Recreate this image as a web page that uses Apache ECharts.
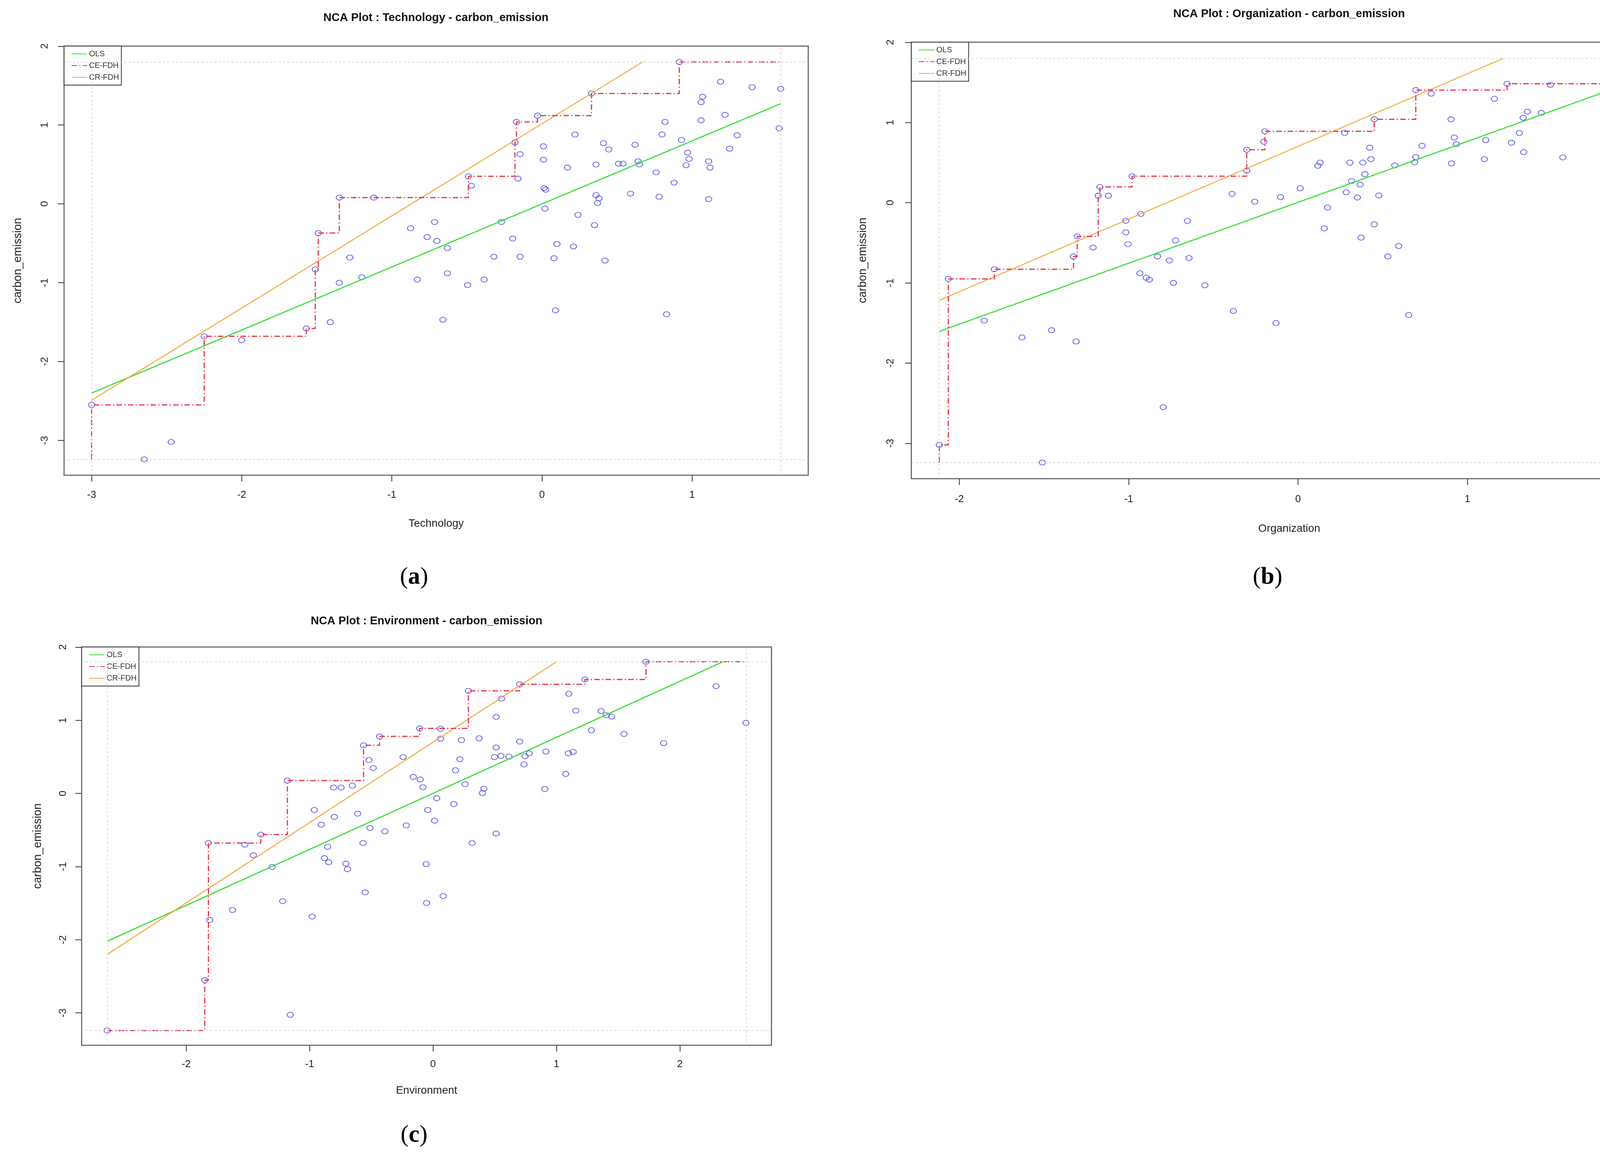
<!DOCTYPE html>
<html><head><meta charset="utf-8">
<script src="https://cdn.jsdelivr.net/npm/echarts@6/dist/echarts.min.js"></script>
<style>html,body{margin:0;padding:0;background:#fff}#c{width:4294px;height:2976px}</style>
</head><body><div id="c"></div>
<script>
// ---------- DATA ----------
const yTicks = [-3, -2, -1, 0, 1, 2];
const techTicks = [-3, -2, -1, 0, 1];
const orgTicks = [-2, -1, 0, 1, 2];
const envTicks = [-2, -1, 0, 1, 2];

const techX = [-3.0,-2.65,-2.47,-2.25,-2.0,-1.57,-1.51,-1.49,-1.41,-1.35,
 -1.35,-1.28,-1.20,-1.12,-0.875,-0.83,-0.765,-0.715,-0.70,-0.66,
 -0.63,-0.63,-0.495,-0.49,-0.47,-0.385,-0.32,-0.27,-0.195,-0.18,
 -0.17,-0.16,-0.146,-0.146,-0.03,0.01,0.01,0.014,0.025,0.02,
 0.08,0.09,0.10,0.17,0.21,0.22,0.24,0.33,0.35,0.36,
 0.36,0.37,0.38,0.41,0.42,0.445,0.51,0.54,0.59,0.62,
 0.64,0.65,0.76,0.78,0.80,0.82,0.83,0.88,0.915,0.93,
 0.96,0.97,0.98,1.06,1.06,1.07,1.11,1.11,1.12,1.19,
 1.22,1.25,1.30,1.40,1.58,1.59];
const techY = [-2.55,-3.24,-3.02,-1.68,-1.73,-1.58,-0.83,-0.37,-1.50,0.08,
 -1.00,-0.68,-0.93,0.08,-0.31,-0.96,-0.42,-0.23,-0.47,-1.47,
 -0.56,-0.88,-1.03,0.35,0.23,-0.96,-0.67,-0.23,-0.44,0.78,
 1.04,0.32,0.63,-0.67,1.12,0.73,0.56,0.20,0.18,-0.06,
 -0.69,-1.35,-0.51,0.46,-0.54,0.88,-0.14,1.40,-0.27,0.11,
 0.50,0.01,0.07,0.77,-0.72,0.69,0.51,0.51,0.13,0.75,
 0.54,0.50,0.40,0.09,0.88,1.04,-1.40,0.27,1.80,0.81,
 0.49,0.65,0.57,1.29,1.06,1.36,0.06,0.54,0.46,1.55,
 1.13,0.70,0.87,1.48,0.96,1.46];
const techCeX = [-3.0,-3.0,-2.25,-1.57,-1.51,-1.49,-1.35,-0.49,-0.18,-0.17,-0.03,0.33,0.915,1.59];
const techCeY = [-3.24,-2.55,-1.68,-1.58,-0.83,-0.37,0.08,0.35,0.78,1.04,1.12,1.40,1.80,1.80];
const techOlsX = [-3.0, 1.59];
const techOlsY = [-2.40, 1.27];
const techCrX = [-3.0, 0.67];
const techCrY = [-2.49, 1.80];

const orgX = [-2.118,-2.065,-1.853,-1.793,-1.63,-1.51,-1.455,-1.326,-1.31,-1.304,
 -1.21,-1.18,-1.17,-1.12,-1.017,-1.017,-1.004,-0.98,
 -0.928,-0.934,
 -0.897,-0.878,-0.83,-0.796,-0.76,-0.736,-0.723,-0.653,-0.644,-0.55,
 -0.39,-0.382,-0.303,-0.303,-0.256,-0.202,-0.196,-0.13,-0.104,0.013,
 0.117,0.13,0.155,0.174,0.275,0.284,0.306,0.316,0.35,0.366,
 0.372,0.382,0.395,0.423,0.43,0.45,0.45,0.477,0.53,0.571,
 0.594,0.653,0.688,0.695,0.695,0.732,0.786,0.903,0.906,0.922,
 0.934,1.10,1.108,1.159,1.234,1.26,1.307,1.329,1.332,1.354,
 1.436,1.49,1.563,1.803,1.863,2.014];
const orgY = [-3.02,-0.95,-1.47,-0.83,-1.68,-3.24,-1.59,-0.67,-1.73,-0.42,
 -0.56,0.087,0.196,0.087,-0.226,-0.37,-0.517,0.33,
 -0.14,-0.88,
 -0.935,-0.96,-0.67,-2.55,-0.72,-1.00,-0.47,-0.226,-0.69,-1.03,
 0.11,-1.35,0.40,0.66,0.013,0.76,0.89,-1.50,0.07,0.18,
 0.46,0.50,-0.32,-0.06,0.87,0.13,0.50,0.27,0.065,0.226,
 -0.435,0.50,0.356,0.687,0.543,1.04,-0.27,0.09,-0.67,0.465,
 -0.54,-1.40,0.504,0.57,1.404,0.71,1.36,1.04,0.49,0.813,
 0.73,0.543,0.78,1.296,1.483,0.748,0.87,1.06,0.63,1.135,
 1.12,1.47,0.565,1.80,1.557,0.965];
const orgCeX = [-2.118,-2.118,-2.065,-1.793,-1.326,-1.304,-1.18,-1.17,-0.98,-0.303,-0.196,0.45,0.695,1.234,1.803,2.014];
const orgCeY = [-3.24,-3.02,-0.95,-0.83,-0.67,-0.42,0.087,0.196,0.33,0.66,0.89,1.04,1.404,1.483,1.80,1.80];
const orgOlsX = [-2.118, 2.014];
const orgOlsY = [-1.604, 1.535];
const orgCrX = [-2.118, 1.212];
const orgCrY = [-1.217, 1.80];

const envX = [-2.64,-1.85,-1.82,-1.81,-1.625,-1.525,-1.456,-1.395,-1.304,-1.218,
 -1.18,-1.157,-0.98,-0.962,-0.906,-0.88,-0.854,-0.845,-0.806,-0.80,
 -0.745,-0.706,-0.693,-0.654,-0.611,-0.568,-0.563,-0.55,-0.52,-0.511,
 -0.485,-0.433,-0.39,-0.243,-0.217,-0.16,-0.108,-0.104,-0.082,-0.056,
 -0.052,-0.043,0.013,0.03,0.061,0.061,0.082,0.169,0.182,0.217,
 0.23,0.26,0.286,0.316,0.373,0.40,0.412,0.498,0.511,0.511,
 0.511,0.55,0.555,0.615,0.702,0.702,0.737,0.745,0.78,0.906,
 0.914,1.075,1.096,1.10,1.135,1.157,1.231,1.283,1.361,1.404,
 1.447,1.547,1.725,1.868,2.293,2.535];
const envY = [-3.24,-2.553,-0.678,-1.73,-1.593,-0.70,-0.844,-0.563,-1.005,-1.472,
 0.176,-3.025,-1.683,-0.226,-0.427,-0.884,-0.729,-0.94,0.08,-0.32,
 0.08,-0.96,-1.035,0.106,-0.276,-0.678,0.658,-1.352,0.457,-0.472,
 0.347,0.779,-0.518,0.497,-0.437,0.226,0.889,0.191,0.085,-0.965,
 -1.497,-0.226,-0.372,-0.065,0.884,0.749,-1.402,-0.146,0.317,0.467,
 0.729,0.126,1.402,-0.678,0.754,0.005,0.065,0.497,1.045,0.628,
 -0.548,0.513,1.296,0.503,1.492,0.709,0.397,0.508,0.548,0.06,
 0.573,0.266,0.548,1.362,0.568,1.131,1.558,0.864,1.126,1.07,
 1.05,0.814,1.80,0.688,1.467,0.965];
const envCeX = [-2.64,-1.85,-1.82,-1.395,-1.18,-0.563,-0.433,-0.108,0.286,0.702,1.231,1.725,2.535];
const envCeY = [-3.24,-2.553,-0.678,-0.563,0.176,0.658,0.779,0.889,1.402,1.492,1.558,1.80,1.80];
const envOlsX = [-2.64, 2.349];
const envOlsY = [-2.02, 1.80];
const envCrX = [-2.64, 1.0];
const envCrY = [-2.20, 1.80];

const xNames = ['Technology', 'Organization', 'Environment'];
const yName = 'carbon_emission';
const seriesNames = ['OLS', 'CE-FDH', 'CR-FDH'];
const panelLetters = ['a', 'b', 'c'];

// ---------- LAYOUT ----------
const panels = [
  {x: techX, y: techY, ceX: techCeX, ceY: techCeY, olsX: techOlsX, olsY: techOlsY, crX: techCrX, crY: techCrY, ticks: techTicks,
   grid: {left: 164, top: 118, width: 1905, height: 1099}, title: [1116, 46], lab: [1060, 1479],
   xLabelMargin: 38, xNameGap: 110, yLabelMargin: 36, yNameGap: 104},
  {x: orgX, y: orgY, ceX: orgCeX, ceY: orgCeY, olsX: orgOlsX, olsY: orgOlsY, crX: orgCrX, crY: orgCrY, ticks: orgTicks,
   grid: {left: 2333, top: 108, width: 1935, height: 1118}, title: [3300, 36], lab: [3245, 1479],
   xLabelMargin: 40, xNameGap: 114, yLabelMargin: 40, yNameGap: 110},
  {x: envX, y: envY, ceX: envCeX, ceY: envCeY, olsX: envOlsX, olsY: envOlsY, crX: envCrX, crY: envCrY, ticks: envTicks,
   grid: {left: 209, top: 1657, width: 1766, height: 1020}, title: [1092, 1591], lab: [1060, 2908],
   xLabelMargin: 36, xNameGap: 102, yLabelMargin: 34, yNameGap: 98}
];

const FONT = '"Liberation Sans", Arial, sans-serif';
const zip = (a, b) => a.map((v, i) => [v, b[i]]);
const ext = arr => {
  const mn = Math.min(...arr), mx = Math.max(...arr), s = mx - mn;
  return [mn - 0.04 * s, mx + 0.04 * s, mn, mx];
};

const option = {
  animation: false,
  backgroundColor: '#fff',
  grid: [], xAxis: [], yAxis: [], series: [], legend: [], graphic: []
};

panels.forEach((p, i) => {
  const xr = ext(p.x), yr = ext(p.y);
  option.grid.push(Object.assign({show: true, borderColor: '#555', borderWidth: 2.6, backgroundColor: 'transparent'}, p.grid));
  option.xAxis.push({
    type: 'value', gridIndex: i, min: xr[0], max: xr[1], position: 'bottom',
    axisLine: {show: false, onZero: false},
    axisTick: {show: true, length: 16, lineStyle: {color: '#444', width: 2.2}, customValues: p.ticks},
    axisLabel: {customValues: p.ticks, fontSize: 26, color: '#222', margin: p.xLabelMargin, fontFamily: FONT},
    splitLine: {show: false},
    name: xNames[i], nameLocation: 'middle', nameGap: p.xNameGap,
    nameTextStyle: {fontSize: 28, color: '#222', fontFamily: FONT}
  });
  option.yAxis.push({
    type: 'value', gridIndex: i, min: yr[0], max: yr[1], position: 'left',
    axisLine: {show: false, onZero: false},
    axisTick: {show: true, length: 16, lineStyle: {color: '#444', width: 2.2}, customValues: yTicks},
    axisLabel: {customValues: yTicks, fontSize: 26, color: '#222', margin: p.yLabelMargin, rotate: 90, fontFamily: FONT},
    splitLine: {show: false},
    name: yName, nameLocation: 'middle', nameGap: p.yNameGap,
    nameTextStyle: {fontSize: 29, color: '#222', fontFamily: FONT}
  });
  option.series.push({
    type: 'scatter', xAxisIndex: i, yAxisIndex: i, data: zip(p.x, p.y),
    symbol: 'circle', symbolSize: [16, 13],
    itemStyle: {color: 'rgba(0,0,0,0)', borderColor: '#3d3de2', borderWidth: 2},
    markLine: {
      silent: true, symbol: ['none', 'none'], label: {show: false},
      lineStyle: {type: [5, 6], color: '#c8c8c8', width: 1.6},
      data: [{xAxis: xr[2]}, {xAxis: xr[3]}, {yAxis: yr[2]}, {yAxis: yr[3]}]
    },
    z: 2
  });
  option.series.push({
    name: 'OLS', type: 'line', xAxisIndex: i, yAxisIndex: i, data: zip(p.olsX, p.olsY),
    symbol: 'none', itemStyle: {color: '#3fdc3f'}, lineStyle: {color: '#3fdc3f', width: 3}, z: 3
  });
  option.series.push({
    name: 'CE-FDH', type: 'line', step: 'end', xAxisIndex: i, yAxisIndex: i, data: zip(p.ceX, p.ceY),
    symbol: 'none', itemStyle: {color: '#e8344a'}, lineStyle: {color: '#e8344a', width: 3, type: [14, 6, 3, 6]}, z: 4
  });
  option.series.push({
    name: 'CR-FDH', type: 'line', xAxisIndex: i, yAxisIndex: i, data: zip(p.crX, p.crY),
    symbol: 'none', itemStyle: {color: '#f2a93b'}, lineStyle: {color: '#f2a93b', width: 2.5}, z: 3
  });
  option.legend.push({
    orient: 'vertical', left: p.grid.left, top: p.grid.top,
    data: seriesNames, selectedMode: false,
    itemWidth: 40, itemHeight: 14, itemGap: 10,
    itemStyle: {opacity: 0},
    textStyle: {fontSize: 20, color: '#333', fontFamily: FONT},
    borderColor: '#333', borderWidth: 2, borderRadius: 0,
    padding: [10, 6, 10, 18], backgroundColor: '#fff'
  });
  option.graphic.push({
    type: 'text', x: p.title[0], y: p.title[1], z: 10,
    style: {text: 'NCA Plot : ' + xNames[i] + ' - ' + yName, font: 'bold 29px ' + FONT,
      textAlign: 'center', textVerticalAlign: 'middle', fill: '#111'}
  });
  option.graphic.push({
    type: 'text', x: p.lab[0], y: p.lab[1], z: 10,
    style: {text: '{p|(}{b|' + panelLetters[i] + '}{p|)}', textAlign: 'center', textVerticalAlign: 'middle', fill: '#000',
      rich: {p: {font: '62px "Liberation Serif", serif', fill: '#000'}, b: {font: 'bold 62px "Liberation Serif", serif', fill: '#000'}}}
  });
});

const chart = echarts.init(document.getElementById('c'), null, {renderer: 'canvas'});
chart.setOption(option);
</script></body></html>
